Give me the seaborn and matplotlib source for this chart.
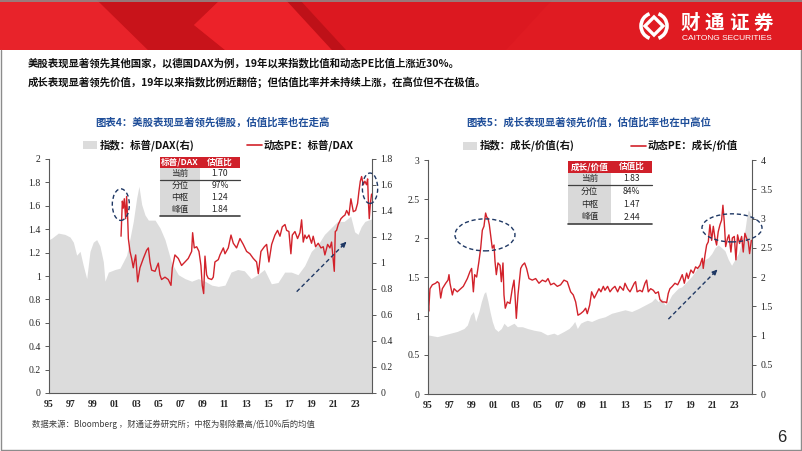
import numpy as np
import pandas as pd
import matplotlib
matplotlib.use("Agg")
import matplotlib.pyplot as plt
import seaborn as sns
from matplotlib.patches import Rectangle, Polygon, Ellipse, Arc
from matplotlib.ticker import FuncFormatter

# ---------------- data ----------------
header_lines = [
    "美股表现显著领先其他国家，以德国DAX为例，19年以来指数比值和动态PE比值上涨近30%。",
    "成长表现显著领先价值，19年以来指数比例近翻倍；但估值比率并未持续上涨，在高位但不在极值。",
]
left_title = "图表4：美股表现显著领先德股，估值比率也在走高"
right_title = "图表5：成长表现显著领先价值，估值比率也在中高位"
left_legend = ["指数：标普/DAX(右)", "动态PE：标普/DAX"]
right_legend = ["指数：成长/价值(右)", "动态PE：成长/价值"]
left_table_header = ["标普/DAX", "估值比"]
left_table_rows = [["当前", "1.70"], ["分位", "97%"], ["中枢", "1.24"], ["峰值", "1.84"]]
right_table_header = ["成长/价值", "估值比"]
right_table_rows = [["当前", "1.83"], ["分位", "84%"], ["中枢", "1.47"], ["峰值", "2.44"]]
footer_text = "数据来源：Bloomberg ，财通证券研究所；中枢为剔除最高/低10%后的均值"
page_number = "6"

year_ticks = [1995, 1997, 1999, 2001, 2003, 2005, 2007, 2009, 2011, 2013, 2015, 2017, 2019, 2021, 2023]
year_labels = ["95", "97", "99", "01", "03", "05", "07", "09", "11", "13", "15", "17", "19", "21", "23"]

# left chart: S&P/DAX dynamic PE ratio (left axis)
left_pe_x = [2001.59, 2001.71, 2001.80, 2001.89, 2002.01, 2002.10, 2002.20, 2002.26, 2002.41, 2002.56,
             2002.71, 2002.80, 2002.93, 2003.11, 2003.32, 2003.63, 2003.93, 2004.09, 2004.24, 2004.39,
             2004.70, 2005.00, 2005.15, 2005.30, 2005.61, 2005.91, 2006.16, 2006.28, 2006.52, 2006.83,
             2007.13, 2007.44, 2007.74, 2008.05, 2008.14, 2008.29, 2008.51, 2008.72, 2008.90, 2009.02,
             2009.15, 2009.27, 2009.42, 2009.57, 2009.88, 2010.03, 2010.18, 2010.49, 2010.64, 2010.95,
             2011.10, 2011.40, 2011.65, 2011.86, 2012.16, 2012.47, 2012.77, 2013.08, 2013.38, 2013.69,
             2013.99, 2014.15, 2014.39, 2014.70, 2014.91, 2015.12, 2015.37, 2015.67, 2015.91, 2016.13,
             2016.34, 2016.59, 2016.74, 2016.95, 2017.13, 2017.26, 2017.50, 2017.74, 2017.96, 2018.11,
             2018.26, 2018.41, 2018.57, 2018.78, 2019.02, 2019.17, 2019.39, 2019.63, 2019.88, 2020.09,
             2020.24, 2020.49, 2020.70, 2020.85, 2021.10, 2021.19, 2021.31, 2021.46, 2021.71, 2021.92,
             2022.07, 2022.23, 2022.44, 2022.62, 2022.84, 2023.05, 2023.23, 2023.35, 2023.48, 2023.60,
             2023.75, 2023.90, 2024.05, 2024.15, 2024.21, 2024.30, 2024.39, 2024.51]
left_pe_y = [1.34, 1.64, 1.58, 1.66, 1.49, 1.68, 1.49, 1.32, 1.21, 1.15,
             1.07, 1.12, 1.18, 0.95, 1.07, 1.15, 1.22, 1.24, 1.12, 1.05,
             1.04, 1.11, 1.01, 0.97, 0.99, 0.97, 0.92, 1.07, 1.18, 1.15,
             1.09, 1.12, 1.15, 1.21, 1.37, 1.24, 1.25, 1.21, 1.09, 0.92,
             0.85, 1.17, 1.01, 0.98, 0.97, 0.99, 1.12, 1.14, 1.18, 1.24,
             1.19, 1.24, 1.35, 1.28, 1.24, 1.32, 1.27, 1.21, 1.19, 1.15,
             1.12, 1.02, 1.21, 1.25, 1.27, 1.12, 1.27, 1.35, 1.39, 1.34,
             1.42, 1.44, 1.39, 1.38, 1.19, 1.35, 1.38, 1.32, 1.37, 1.48,
             1.29, 1.35, 1.32, 1.35, 1.28, 1.34, 1.25, 1.28, 1.24, 1.25,
             1.18, 1.27, 1.24, 1.29, 1.04, 1.38, 1.39, 1.44, 1.49, 1.51,
             1.52, 1.56, 1.52, 1.66, 1.55, 1.56, 1.62, 1.72, 1.81, 1.85,
             1.78, 1.81, 1.78, 1.83, 1.66, 1.49, 1.61, 1.70]

# left chart: S&P/DAX index ratio (right axis)
left_idx_x = [1995.00, 1995.24, 1995.85, 1996.46, 1996.92, 1997.23, 1997.53, 1997.84, 1998.14, 1998.45,
              1998.75, 1999.05, 1999.36, 1999.66, 1999.97, 2000.12, 2000.43, 2001.04, 2001.49, 2001.80,
              2002.10, 2002.41, 2002.71, 2003.02, 2003.23, 2003.48, 2003.78, 2004.09, 2004.70, 2005.15,
              2005.61, 2006.22, 2006.83, 2007.44, 2008.05, 2008.66, 2009.27, 2009.88, 2010.49, 2011.10,
              2011.65, 2012.26, 2012.87, 2013.48, 2014.09, 2014.70, 2015.34, 2015.95, 2016.56, 2017.17,
              2017.78, 2018.39, 2019.00, 2019.60, 2020.20, 2020.80, 2021.40, 2022.00, 2022.60, 2022.96,
              2023.27, 2023.57, 2023.90, 2024.20, 2024.55]
left_idx_y = [1.18, 1.19, 1.23, 1.22, 1.20, 1.16, 1.06, 1.09, 0.98, 0.88,
              1.09, 1.16, 1.18, 1.13, 1.01, 0.86, 0.93, 0.95, 0.96, 1.01,
              1.06, 1.19, 1.32, 1.50, 1.59, 1.45, 1.37, 1.33, 1.33, 1.27,
              1.18, 1.00, 0.91, 0.88, 0.86, 0.88, 0.86, 0.83, 0.82, 0.83,
              0.93, 0.95, 0.94, 0.88, 0.91, 0.95, 0.84, 0.85, 0.93, 0.93,
              0.91, 0.98, 1.09, 1.14, 1.22, 1.27, 1.32, 1.32, 1.36, 1.24,
              1.22, 1.28, 1.32, 1.33, 1.34]

# right chart: growth/value dynamic PE ratio (left axis)
right_pe_x = [1995.00, 1995.06, 1995.18, 1995.40, 1995.70, 1995.85, 1996.01, 1996.16, 1996.31, 1996.62,
              1996.83, 1996.92, 1997.01, 1997.23, 1997.38, 1997.68, 1997.99, 1998.23, 1998.45, 1998.60,
              1998.84, 1998.99, 1999.15, 1999.27, 1999.45, 1999.66, 1999.82, 1999.97, 2000.12, 2000.27,
              2000.37, 2000.49, 2000.61, 2000.73, 2000.88, 2001.04, 2001.13, 2001.25, 2001.40, 2001.59,
              2001.71, 2001.86, 2001.95, 2002.07, 2002.26, 2002.50, 2002.71, 2002.87, 2002.96, 2003.08,
              2003.23, 2003.48, 2003.63, 2003.84, 2004.02, 2004.24, 2004.54, 2004.85, 2005.15, 2005.46,
              2005.76, 2005.98, 2006.22, 2006.52, 2006.83, 2007.13, 2007.44, 2007.74, 2008.05, 2008.29,
              2008.51, 2008.72, 2008.96, 2009.21, 2009.42, 2009.57, 2009.79, 2009.97, 2010.21, 2010.43,
              2010.64, 2010.82, 2011.04, 2011.19, 2011.43, 2011.65, 2011.86, 2012.10, 2012.35, 2012.56,
              2012.87, 2013.02, 2013.26, 2013.48, 2013.63, 2013.87, 2013.99, 2014.13, 2014.39, 2014.60,
              2014.85, 2015.00, 2015.15, 2015.37, 2015.61, 2015.82, 2016.07, 2016.22, 2016.43, 2016.68,
              2016.83, 2016.98, 2017.13, 2017.35, 2017.59, 2017.84, 2018.05, 2018.26, 2018.45, 2018.66,
              2018.81, 2019.05, 2019.27, 2019.48, 2019.66, 2019.88, 2020.09, 2020.18, 2020.34, 2020.49,
              2020.64, 2020.79, 2020.95, 2021.10, 2021.25, 2021.40, 2021.55, 2021.71, 2021.86, 2021.98,
              2022.10, 2022.23, 2022.41, 2022.53, 2022.71, 2022.84, 2023.02, 2023.17, 2023.32, 2023.50,
              2023.69, 2023.84, 2023.99, 2024.14, 2024.30, 2024.42, 2024.58]
right_pe_y = [1.18, 1.06, 1.35, 1.40, 1.42, 1.44, 1.42, 1.23, 1.35, 1.42,
              1.46, 1.53, 1.42, 1.27, 1.35, 1.31, 1.35, 1.38, 1.44, 1.48,
              1.57, 1.61, 1.31, 1.53, 1.50, 1.70, 1.87, 2.10, 2.15, 2.32,
              2.27, 2.25, 2.17, 2.04, 1.87, 1.91, 1.70, 1.53, 1.68, 1.65,
              1.44, 1.68, 1.27, 1.10, 1.18, 1.16, 1.35, 1.46, 1.27, 0.97,
              1.27, 1.61, 1.65, 1.68, 1.61, 1.48, 1.46, 1.48, 1.42, 1.46,
              1.44, 1.48, 1.40, 1.42, 1.38, 1.40, 1.46, 1.44, 1.31, 1.27,
              1.18, 1.01, 1.03, 1.06, 1.10, 1.03, 1.14, 1.31, 1.23, 1.29,
              1.35, 1.31, 1.38, 1.33, 1.38, 1.31, 1.35, 1.38, 1.31, 1.38,
              1.33, 1.42, 1.35, 1.31, 1.35, 1.42, 1.44, 1.31, 1.33, 1.31,
              1.42, 1.46, 1.31, 1.35, 1.33, 1.29, 1.31, 1.21, 1.18, 1.18,
              1.17, 1.29, 1.35, 1.38, 1.42, 1.40, 1.46, 1.53, 1.42, 1.55,
              1.48, 1.59, 1.55, 1.63, 1.61, 1.65, 1.74, 1.61, 1.78, 1.91,
              1.95, 2.17, 1.97, 2.15, 2.00, 1.91, 2.08, 2.17, 2.23, 2.42,
              2.21, 1.89, 2.00, 2.04, 1.82, 2.00, 2.02, 1.72, 2.04, 1.93,
              2.02, 1.82, 2.06, 2.00, 1.95, 1.80, 1.97]

# right chart: growth/value index ratio (right axis)
right_idx_x = [1995.00, 1995.85, 1996.46, 1997.07, 1997.68, 1998.29, 1998.60, 1998.90, 1999.15, 1999.36,
               1999.66, 1999.88, 2000.12, 2000.27, 2000.49, 2000.67, 2000.88, 2001.10, 2001.40, 2001.71,
               2001.95, 2002.26, 2002.56, 2002.87, 2003.17, 2003.63, 2004.09, 2004.70, 2005.30, 2005.91,
               2006.52, 2006.83, 2007.44, 2007.90, 2008.20, 2008.42, 2008.66, 2008.96, 2009.27, 2009.57,
               2009.97, 2010.58, 2011.19, 2011.80, 2012.41, 2013.02, 2013.63, 2014.24, 2014.85, 2015.46,
               2015.76, 2016.07, 2016.37, 2016.68, 2016.98, 2017.29, 2017.59, 2017.90, 2018.20, 2018.51,
               2018.81, 2019.12, 2019.42, 2019.73, 2020.03, 2020.34, 2020.64, 2020.95, 2021.25, 2021.55,
               2021.86, 2022.16, 2022.47, 2022.77, 2023.08, 2023.38, 2023.69, 2023.99, 2024.14, 2024.30,
               2024.45, 2024.64]
right_idx_y = [1.01, 0.98, 1.01, 1.04, 1.07, 1.12, 1.18, 1.35, 1.41, 1.24,
               1.41, 1.58, 1.72, 1.75, 1.58, 1.41, 1.24, 1.12, 1.07, 1.12,
               1.21, 1.15, 1.18, 1.21, 1.15, 1.15, 1.12, 1.09, 1.07, 1.01,
               1.04, 1.01, 1.07, 1.12, 1.18, 1.24, 1.12, 1.21, 1.24, 1.26,
               1.24, 1.29, 1.32, 1.38, 1.41, 1.44, 1.41, 1.46, 1.52, 1.58,
               1.64, 1.58, 1.64, 1.52, 1.58, 1.69, 1.75, 1.81, 1.83, 1.89,
               1.95, 2.01, 2.09, 2.18, 2.26, 2.30, 2.33, 2.40, 2.50, 2.55,
               2.50, 2.45, 2.30, 2.20, 2.30, 2.40, 2.60, 2.80, 3.00, 3.15,
               3.10, 2.95]

# ---------------- style ----------------
W, H = 802, 451
RED = "#D2222B"
TAB_RED = "#D0202A"
GRAY = "#DCDCDC"
NAVY = "#1F3864"
BLUE = "#1F4E99"
AXC = "#595959"

sns.set_theme(style="white")
plt.rcParams['font.family'] = ['Noto Sans CJK SC', 'DejaVu Sans']
plt.rcParams['axes.unicode_minus'] = False
CJK = ['Noto Sans CJK SC', 'DejaVu Sans']

fig = plt.figure(figsize=(W / 100, H / 100), dpi=100)
fig.patch.set_facecolor("white")


def axes_rect(x0, y0, x1, y1):
    return [x0 / W, 1 - y1 / H, (x1 - x0) / W, (y1 - y0) / H]


fmt = FuncFormatter(lambda v, _: f"{v:g}")


def make_chart(rect, pe_x, pe_y, idx_x, idx_y, xmax, ylim_l, step_l, ylim_r, step_r,
               ellipses, arrow):
    ax = fig.add_axes(rect)
    ax2 = ax.twinx()
    ax.set_zorder(ax2.get_zorder() + 1)
    ax.patch.set_visible(False)

    ax2.fill_between(idx_x, 0, idx_y, color=GRAY, lw=0)
    df = pd.DataFrame({"year": pe_x, "pe": pe_y})
    sns.lineplot(data=df, x="year", y="pe", ax=ax, color=RED, lw=1.0,
                 estimator=None, sort=False)
    ax.set_xlabel("")
    ax.set_ylabel("")
    ax2.set_ylabel("")

    ax.set_xlim(1995, xmax)
    ax.set_ylim(*ylim_l)
    ax2.set_ylim(*ylim_r)
    ax.set_yticks(np.arange(ylim_l[0], ylim_l[1] + 1e-9, step_l))
    ax2.set_yticks(np.arange(ylim_r[0], ylim_r[1] + 1e-9, step_r))
    ax.yaxis.set_major_formatter(fmt)
    ax2.yaxis.set_major_formatter(fmt)
    ax.set_xticks(year_ticks)
    ax.set_xticklabels(year_labels)

    for a in (ax, ax2):
        for s in a.spines.values():
            s.set_visible(False)
    ax.spines['left'].set_visible(True)
    ax.spines['bottom'].set_visible(True)
    ax2.spines['right'].set_visible(True)
    for s in (ax.spines['left'], ax.spines['bottom'], ax2.spines['right']):
        s.set_color(AXC)
        s.set_linewidth(0.8)

    ax.tick_params(axis='y', left=True, direction='out', length=3, width=0.7, color=AXC,
                   pad=3, labelsize=7, labelcolor="#262626", labelfontfamily='Liberation Serif')
    ax2.tick_params(axis='y', right=True, direction='out', length=3, width=0.7, color=AXC,
                    pad=3, labelsize=7, labelcolor="#262626", labelfontfamily='Liberation Serif')
    ax.tick_params(axis='x', bottom=False, length=0, pad=5, labelsize=7,
                   labelcolor="#262626", labelfontfamily='Liberation Serif')
    for t in ax.get_xticklabels():
        t.set_fontweight('bold')
    ax.grid(False)
    ax2.grid(False)

    for (cx, cy, w, h) in ellipses:
        ax.add_patch(Ellipse((cx, cy), w, h, fill=False, ec=NAVY, lw=1.0,
                             ls=(0, (3, 2)), clip_on=False, zorder=6))
    (x0, y0), (x1, y1) = arrow
    ax.plot([x0, x1 - (x1 - x0) * 0.06], [y0, y1 - (y1 - y0) * 0.06], color=NAVY, lw=1.0,
            ls=(0, (3, 2)), zorder=6)
    ax.annotate("", xy=(x1, y1), xytext=(x1 - (x1 - x0) * 0.1, y1 - (y1 - y0) * 0.1),
                arrowprops=dict(arrowstyle='-|>', color=NAVY, lw=1.0, mutation_scale=7),
                zorder=6)
    return ax, ax2


make_chart(axes_rect(49, 159, 372, 393), left_pe_x, left_pe_y, left_idx_x, left_idx_y,
           2024.55, (0, 2), 0.2, (0, 1.8), 0.2,
           ellipses=[(2001.57, 1.61, 1.56, 0.27), (2024.37, 1.75, 1.4, 0.26)],
           arrow=((2017.66, 0.866), (2022.38, 1.308)))

make_chart(axes_rect(428, 160, 752, 394), right_pe_x, right_pe_y, right_idx_x, right_idx_y,
           2024.64, (0, 3), 0.5, (0, 4), 0.5,
           ellipses=[(2000.21, 2.04, 5.49, 0.41), (2022.81, 2.13, 5.49, 0.36)],
           arrow=((2016.99, 0.96), (2021.65, 1.62)))

# ---------------- overlay (pixel coords) ----------------
ov = fig.add_axes([0, 0, 1, 1])
ov.set_xlim(0, W)
ov.set_ylim(H, 0)
ov.axis('off')

# banner
ov.add_patch(Rectangle((0, 0), W, 50, fc="#DC1820", ec="none"))
ov.add_patch(Polygon([(0, 0), (97, 0), (148, 50), (0, 50)], closed=True, fc="#E8232A", ec="none"))
ov.add_patch(Polygon([(97, 0), (220, 0), (194, 25), (225, 50), (148, 50)], closed=True,
                     fc="#C8131A", ec="none"))
ov.add_patch(Polygon([(220, 0), (286, 0), (332, 50), (225, 50), (194, 25)], closed=True,
                     fc="#EC2229", ec="none"))
ov.add_patch(Polygon([(286, 0), (300, 0), (346, 50), (332, 50)], closed=True,
                     fc="#BE1118", ec="none"))
ov.add_patch(Polygon([(552, 0), (W, 0), (W, 50), (506, 50)], closed=True, fc="#E01B22", ec="none"))
ov.plot([0, W], [0.6, 0.6], color="#8C8C8C", lw=1.2)

# logo
ov.add_patch(Arc((654, 26), 26, 26, theta1=110, theta2=250, color="white", lw=2.6))
ov.add_patch(Arc((654, 26), 26, 26, theta1=-70, theta2=70, color="white", lw=2.6))
ov.add_patch(Polygon([(654, 17), (663, 26), (654, 35), (645, 26)], closed=True, fc="none",
                     ec="white", lw=2.4))
for i, ch in enumerate("财通证券"):
    ov.text(690 + i * 24.3, 23, ch, color="white", fontsize=14, fontweight='bold',
            ha='center', va='center', family=CJK)
ov.text(727, 38, "CAITONG SECURITIES", color="white", fontsize=6, ha='center', va='center',
        family=['Liberation Sans'])

# header text
ov.text(28, 63, header_lines[0], fontsize=7.5, fontweight='bold', color="#111111",
        ha='left', va='center', family=CJK)
ov.text(28, 82, header_lines[1], fontsize=7.5, fontweight='bold', color="#111111",
        ha='left', va='center', family=CJK)

# chart titles
ov.text(212, 122, left_title, fontsize=7.5, fontweight='bold', color=BLUE, ha='center',
        va='center', family=CJK)
ov.text(589, 122, right_title, fontsize=7.5, fontweight='bold', color=BLUE, ha='center',
        va='center', family=CJK)


# legends
def legend(px_patch, txt1, px_line, txt2, y):
    ov.add_patch(Rectangle((px_patch, y - 4), 14, 8, fc=GRAY, ec="none"))
    ov.text(px_patch + 17, y, txt1, fontsize=7.5, fontweight='bold', color="#111111",
            ha='left', va='center', family=CJK)
    ov.plot([px_line, px_line + 15], [y, y], color=RED, lw=1.2)
    ov.text(px_line + 16, y, txt2, fontsize=7.5, fontweight='bold', color="#111111",
            ha='left', va='center', family=CJK)


legend(83, left_legend[0], 247, left_legend[1], 145)
legend(463, right_legend[0], 631, right_legend[1], 145.5)


# tables
def table(x0, xm, x1, ys, header, rows):
    ov.add_patch(Rectangle((x0, ys[0]), x1 - x0, ys[1] - ys[0], fc=TAB_RED, ec="none"))
    ov.add_patch(Rectangle((x0, ys[1]), xm - x0, ys[-1] - ys[1], fc="#D9D9D9", ec="none"))
    ov.add_patch(Rectangle((xm, ys[1]), x1 - xm, ys[-1] - ys[1], fc="white", ec="none"))
    c1, c2 = (x0 + xm) / 2, (xm + x1) / 2
    yc = (ys[0] + ys[1]) / 2
    ov.text(c1, yc, header[0], color="white", fontsize=6.2, fontweight='bold', ha='center',
            va='center', family=CJK)
    ov.text(c2, yc, header[1], color="white", fontsize=6.2, fontweight='bold', ha='center',
            va='center', family=CJK)
    for i, (a, b) in enumerate(rows):
        yc = (ys[i + 1] + ys[i + 2]) / 2
        ov.text(c1, yc, a, color="#262626", fontsize=6.2, ha='center', va='center', family=CJK)
        ov.text(c2, yc, b, color="#262626", fontsize=6.2, ha='center', va='center', family=CJK)
    ov.plot([x0, x1], [ys[2], ys[2]], color="#404040", lw=0.9)
    ov.plot([x0, x1], [ys[-1], ys[-1]], color="#404040", lw=1.2)


table(160, 200, 240, [157, 168, 179.5, 191.5, 203.5, 216], left_table_header, left_table_rows)
table(568, 611, 652, [161, 172.5, 185, 198, 210.5, 223.5], right_table_header, right_table_rows)

# footer and page number
ov.text(32, 424, footer_text, fontsize=6, color="#404040", ha='left', va='center', family=CJK)
ov.text(782, 437, page_number, fontsize=12, color="#262626", ha='center', va='center',
        family=['Liberation Sans'])

# page frame
ov.plot([1, 1, 800.5, 800.5], [50, 449.5, 449.5, 50], color="#8C8C8C", lw=1.0)

fig.savefig("out.png", dpi=100)
